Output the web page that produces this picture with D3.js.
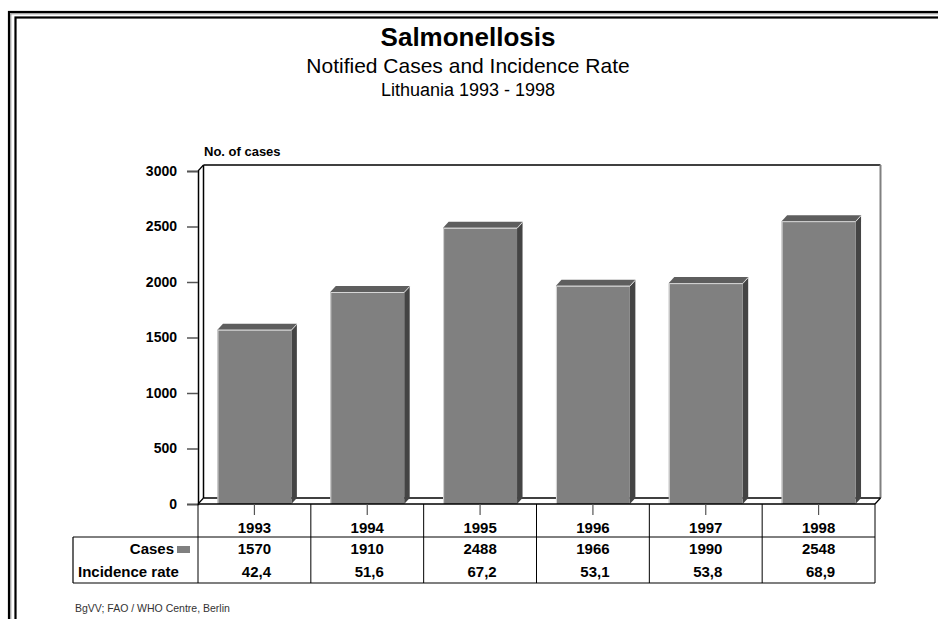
<!DOCTYPE html>
<html>
<head>
<meta charset="utf-8">
<script src="https://cdn.jsdelivr.net/npm/d3@7"></script>
<style>
  body { margin: 0; background: #fff; }
  svg text { font-family: Arial, "Liberation Sans", sans-serif; }
</style>
</head>
<body>
<svg id="chart" width="938" height="619"></svg>
<script>
// data
const years = ["1993", "1994", "1995", "1996", "1997", "1998"];
const cases = [1570, 1910, 2488, 1966, 1990, 2548];
const incidence = ["42,4", "51,6", "67,2", "53,1", "53,8", "68,9"];
const yTicks = [0, 500, 1000, 1500, 2000, 2500, 3000];

let svg = d3.select("#chart");

// double frame, running off the right and bottom
svg.append("rect").attr("x", 9).attr("y", 12).attr("width", 960).attr("height", 640)
    .attr("fill", "none").attr("stroke", "#000").attr("stroke-width", 2.2);
svg.append("rect").attr("x", 10.8).attr("y", 13.8).attr("width", 960).attr("height", 640)
    .attr("fill", "none").attr("stroke", "#888").attr("stroke-width", 1);
svg.append("rect").attr("x", 15.5).attr("y", 17.5).attr("width", 960).attr("height", 640)
    .attr("fill", "none").attr("stroke", "#000").attr("stroke-width", 2.2);

// titles
svg.append("text").attr("x", 468).attr("y", 46).attr("text-anchor", "middle")
    .attr("font-size", 26).attr("font-weight", "bold").text("Salmonellosis");
svg.append("text").attr("x", 468).attr("y", 73).attr("text-anchor", "middle")
    .attr("font-size", 21).text("Notified Cases and Incidence Rate");
svg.append("text").attr("x", 468).attr("y", 96).attr("text-anchor", "middle")
    .attr("font-size", 18).text("Lithuania 1993 - 1998");

// plot area
const x0 = 198, x1 = 875, yBase = 504, yTop = 171;
const dx = 5.5, dy = 6;

let x = d3.scaleBand().domain(years).range([x0, x1]).paddingInner(0.345).paddingOuter(0.1725);
let xCol = d3.scaleBand().domain(years).range([x0, x1]);
let y = d3.scaleLinear().domain([0, 3000]).range([yBase, yTop]);

let g = svg.append("g");

// back wall + floor
g.append("line").attr("x1", x0 + dx).attr("y1", y(3000) - dy).attr("x2", x1 + dx).attr("y2", y(3000) - dy)
    .attr("stroke", "#000").attr("stroke-width", 1.5);
g.append("line").attr("x1", x1 + dx).attr("y1", y(3000) - dy).attr("x2", x1 + dx).attr("y2", yBase - dy)
    .attr("stroke", "#808080").attr("stroke-width", 2);
g.append("line").attr("x1", x0 + dx).attr("y1", y(3000) - dy).attr("x2", x0 + dx).attr("y2", yBase - dy)
    .attr("stroke", "#000").attr("stroke-width", 1.5);
g.append("line").attr("x1", x0 + dx).attr("y1", yBase - dy).attr("x2", x1 + dx).attr("y2", yBase - dy)
    .attr("stroke", "#000").attr("stroke-width", 1.5);
g.append("line").attr("x1", x0).attr("y1", yBase).attr("x2", x0 + dx).attr("y2", yBase - dy)
    .attr("stroke", "#000").attr("stroke-width", 1.2);
g.append("line").attr("x1", x1).attr("y1", yBase).attr("x2", x1 + dx).attr("y2", yBase - dy)
    .attr("stroke", "#000").attr("stroke-width", 1.2);
g.append("line").attr("x1", x0).attr("y1", y(3000)).attr("x2", x0 + dx).attr("y2", y(3000) - dy)
    .attr("stroke", "#000").attr("stroke-width", 1.2);

// y axis (front edge)
let yAxis = d3.axisLeft(y).tickValues(yTicks).tickFormat(d3.format("d")).tickSize(11).tickPadding(10);
let ya = g.append("g").attr("transform", `translate(${x0},0)`).call(yAxis);
ya.select(".domain").attr("stroke", "#000").attr("stroke-width", 1.5);
ya.selectAll(".tick line").attr("stroke", "#555").attr("stroke-width", 1.5);
ya.selectAll(".tick text").attr("font-size", 14).attr("font-weight", "bold")
    .attr("font-family", "Arial, 'Liberation Sans', sans-serif").attr("fill", "#000");

svg.append("text").attr("x", 204).attr("y", 156).attr("font-size", 13).attr("font-weight", "bold")
    .text("No. of cases");

// bars: side, top, front
let bars = g.append("g").selectAll("g").data(years).enter().append("g");
bars.append("polygon")
    .attr("points", (d, i) => {
        let xr = x(d) + x.bandwidth(), yt = y(cases[i]);
        return [[xr, yt], [xr + dx, yt - dy], [xr + dx, yBase - dy], [xr, yBase]].join(" ");
    })
    .attr("fill", "#444");
bars.append("polygon")
    .attr("points", (d, i) => {
        let xl = x(d), xr = x(d) + x.bandwidth(), yt = y(cases[i]);
        return [[xl, yt], [xl + dx, yt - dy], [xr + dx, yt - dy], [xr, yt]].join(" ");
    })
    .attr("fill", "#5e5e5e");
bars.append("rect")
    .attr("x", d => x(d)).attr("y", (d, i) => y(cases[i]))
    .attr("width", x.bandwidth()).attr("height", (d, i) => yBase - y(cases[i]))
    .attr("fill", "#808080");
// light edges
bars.append("polyline")
    .attr("points", (d, i) => {
        let xl = x(d) + 0.5, xr = x(d) + x.bandwidth(), yt = y(cases[i]) + 0.5;
        return [[xl, yBase], [xl, yt], [xr, yt], [xr + dx, yt - dy]].join(" ");
    })
    .attr("fill", "none").attr("stroke", "#d8d8d8").attr("stroke-width", 1);

// front floor line
g.append("line").attr("x1", x0).attr("y1", yBase).attr("x2", x1).attr("y2", yBase)
    .attr("stroke", "#000").attr("stroke-width", 1.5);

// data table
const tLeft = 73, rowYear = 537, tBottom = 583;
let t = svg.append("g");
t.selectAll(".cl").data(years.concat(["end"])).enter().append("line")
    .attr("x1", (d, i) => x0 + i * xCol.step()).attr("x2", (d, i) => x0 + i * xCol.step())
    .attr("y1", yBase).attr("y2", tBottom)
    .attr("stroke", "#000").attr("stroke-width", 1);
t.selectAll(".tk").data(years).enter().append("line")
    .attr("x1", d => xCol(d) + xCol.bandwidth() / 2).attr("x2", d => xCol(d) + xCol.bandwidth() / 2)
    .attr("y1", yBase).attr("y2", yBase + 11)
    .attr("stroke", "#555").attr("stroke-width", 1.2);
t.append("line").attr("x1", tLeft).attr("x2", x1).attr("y1", rowYear).attr("y2", rowYear)
    .attr("stroke", "#000").attr("stroke-width", 1);
t.append("line").attr("x1", tLeft).attr("x2", x1).attr("y1", tBottom).attr("y2", tBottom)
    .attr("stroke", "#000").attr("stroke-width", 1.2);
t.append("line").attr("x1", tLeft).attr("x2", tLeft).attr("y1", rowYear).attr("y2", tBottom)
    .attr("stroke", "#000").attr("stroke-width", 1.2);

const fs = 15;
t.selectAll(".yr").data(years).enter().append("text")
    .attr("x", d => xCol(d) + xCol.bandwidth() / 2).attr("y", 533)
    .attr("text-anchor", "middle").attr("font-size", fs).attr("font-weight", "bold").text(d => d);
t.selectAll(".cs").data(years).enter().append("text")
    .attr("x", d => xCol(d) + xCol.bandwidth() / 2).attr("y", 554)
    .attr("text-anchor", "middle").attr("font-size", fs).attr("font-weight", "bold").text((d, i) => cases[i]);
t.selectAll(".ir").data(years).enter().append("text")
    .attr("x", d => xCol(d) + xCol.bandwidth() / 2 + 2).attr("y", 577)
    .attr("text-anchor", "middle").attr("font-size", fs).attr("font-weight", "bold").text((d, i) => incidence[i]);

t.append("text").attr("x", 174).attr("y", 554).attr("text-anchor", "end")
    .attr("font-size", fs).attr("font-weight", "bold").text("Cases");
t.append("rect").attr("x", 177).attr("y", 546).attr("width", 13).attr("height", 7).attr("fill", "#808080");
t.append("text").attr("x", 78).attr("y", 577)
    .attr("font-size", fs).attr("font-weight", "bold").text("Incidence rate");

// source
svg.append("text").attr("x", 75).attr("y", 612).attr("font-size", 10.5).attr("fill", "#333")
    .text("BgVV; FAO / WHO Centre, Berlin");
</script>
</body>
</html>
